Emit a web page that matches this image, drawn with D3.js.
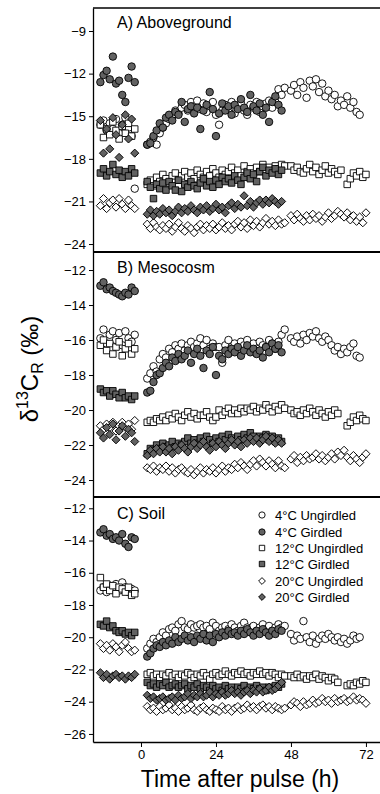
<!DOCTYPE html>
<html><head><meta charset="utf-8">
<script src="https://cdn.jsdelivr.net/npm/d3@7"></script>
<style>
html,body{margin:0;padding:0;background:#fff;}
svg{display:block;font-family:"Liberation Sans",Arial,Helvetica,sans-serif;}
</style></head>
<body><svg id="chart" width="380" height="794"></svg>
<script>
// ---- time points (h after pulse) ----
const tPre  = [-13,-12,-11,-10,-9,-8,-7,-6,-5,-4,-3,-2];
const tPost = [2,3,4,5,6,7,8,9,10,11,12,13,14,15,16,17,18,19,20,21,22,23,24,25,26,27,28,29,30,31,32,33,34,35,36,37,38,39,40,41,42,43,44,45,46];
const tLate = [48,49,50,51,52,53,54,55,56,57,58,59,60,61,62,63,64,65,66,67,68,69,70,71,72];

const seriesNames = ["4°C Ungirdled","4°C Girdled","12°C Ungirdled","12°C Girdled","20°C Ungirdled","20°C Girdled"];
const panelLabels = ["A) Aboveground","B) Mesocosm","C) Soil"];
const ticksA = [-9,-12,-15,-18,-21,-24];
const ticksB = [-12,-14,-16,-18,-20,-22,-24];
const ticksC = [-12,-14,-16,-18,-20,-22,-24,-26];
const xTicks = [0,24,48,72];

// ---- Panel A: Aboveground (ungirdled: pre+post+late, girdled: pre+post) ----
const A_4U = [-15.6,-15.3,-16.0,-15.5,-15.9,-15.2,-16.2,-15.6,-15.1,-15.8,-16.4,-20.1,
 -17.0,-16.8,-16.5,-17.0,-16.2,-15.8,-15.5,-15.2,-15.0,-14.6,-14.8,-14.4,-14.2,-14.6,-14.0,-14.3,-13.9,-14.5,-14.1,-14.7,
 -14.3,-14.0,-14.9,-15.6,-14.6,-14.2,-14.5,-14.0,-14.8,-14.3,-14.1,-14.6,-14.9,-14.2,-14.4,-14.0,-14.7,-14.3,-14.1,-13.9,
 -14.4,-14.0,-13.1,-13.5,-13.0,
 -13.2,-12.8,-13.5,-12.6,-13.0,-13.7,-12.5,-12.9,-12.4,-13.3,-12.7,-13.6,-13.2,-13.8,-13.5,-14.3,-13.9,-14.2,-13.6,-14.4,
 -14.0,-14.7,-14.9,null,null];
const A_4G = [-12.6,-12.1,-11.8,-12.4,-10.8,-12.7,-12.5,-13.5,-14.0,-12.3,-11.5,-12.6,
 -17.0,-16.9,-16.4,-16.0,-15.5,-15.8,-15.1,-14.9,-15.3,-14.7,-14.9,-14.0,-15.4,-14.5,-14.3,-14.8,-14.4,-15.9,-14.6,-14.2,
 -13.3,-14.5,-16.4,-14.8,-14.1,-14.6,-14.3,-14.9,-14.2,-14.5,-13.8,-14.4,-14.7,-13.5,-14.3,-14.6,-14.1,-14.9,-14.4,-15.4,
 -14.0,-13.6,-14.2,-14.6,null];
const A_12U = [-15.6,-16.5,-15.9,-16.3,-15.4,-16.0,-16.6,-15.7,-16.2,-15.5,-16.4,-15.9,
 -19.8,-19.5,-19.9,-19.3,-19.6,-19.1,-19.4,-19.7,-19.2,-19.0,-19.5,-19.2,-18.9,-19.3,-19.0,-19.4,-18.8,-19.1,-19.3,-18.9,
 -19.2,-18.7,-19.0,-19.3,-18.8,-19.1,-18.9,-18.6,-19.0,-18.8,-19.2,-18.5,-18.9,-18.7,-19.0,-18.6,-18.9,-18.4,-18.8,-18.6,
 -18.9,-18.5,-18.7,-18.4,-18.5,
 -18.5,-18.8,-18.6,-18.9,-19.0,-18.7,-18.4,-18.9,-18.6,-19.1,-18.8,-18.5,-19.0,-18.7,-18.9,-19.1,-18.8,null,-19.8,-19.4,
 -19.0,-19.2,-18.9,-19.3,-19.1];
const A_12G = [-19.0,-18.7,-19.2,-18.9,-18.4,-19.1,-18.8,-19.3,-18.9,-19.2,-18.7,-19.0,
 -19.6,-20.0,-20.8,-19.8,-20.1,-19.7,-20.2,-19.6,-19.9,-20.2,-19.5,-20.3,-19.8,-20.0,-19.6,-19.9,-20.1,-19.7,-19.4,-19.9,
 -19.6,-20.0,-19.5,-19.8,-19.3,-19.6,-19.4,-19.7,-19.2,-19.5,-19.8,-19.3,-19.0,-19.4,-19.1,-19.6,-18.9,-18.6,-19.2,-18.8,
 -19.0,-18.7,-19.1,-18.8,null];
const A_20U = [-21.3,-20.8,-21.5,-21.1,-20.9,-21.4,-20.8,-21.2,-21.5,-20.9,-21.3,-21.5,
 -22.6,-22.9,-22.5,-22.8,-23.0,-22.7,-22.9,-22.6,-23.1,-22.8,-22.5,-22.9,-23.1,-22.7,-22.9,-23.2,-22.8,-22.6,-23.0,-22.7,
 -22.9,-22.6,-23.0,-22.8,-22.5,-22.9,-22.7,-23.0,-22.6,-22.4,-22.8,-22.5,-22.9,-22.3,-22.7,-22.4,-22.8,-22.5,-22.2,-22.6,
 -22.4,-22.7,-22.3,-22.6,-22.5,
 -22.0,-22.3,-21.9,-22.2,-22.4,-22.0,-22.3,-21.9,-22.2,-22.0,-22.4,-22.1,-21.8,-22.2,-22.0,-21.7,-21.9,-22.1,-21.8,-22.3,
 -22.0,-22.4,-22.1,-22.5,-21.8];
const A_20G = [-15.3,-17.6,-15.9,-17.3,-15.1,-16.3,-17.9,-15.6,-14.9,-16.6,-15.2,-17.6,
 -21.9,-21.6,-22.0,-21.7,-21.9,-21.5,-21.8,-21.6,-22.0,-21.7,-21.4,-21.8,-21.5,-21.7,-21.3,-21.6,-21.8,-21.4,-21.6,-21.3,
 -21.7,-21.5,-21.2,-21.6,-21.4,-21.8,-21.3,-21.1,-21.5,-21.2,-21.4,-20.6,-21.3,-21.0,-21.4,-21.1,-20.9,-21.2,-20.9,-21.1,
 -20.8,-21.0,-21.2,-21.0,null];

// ---- Panel B: Mesocosm ----
const B_4U = [-15.9,-15.4,-16.2,-15.7,-15.5,-16.0,-15.6,-16.3,-15.5,-15.9,-16.1,-15.7,
 -18.2,-17.9,-17.5,-17.8,-17.1,-16.8,-17.0,-16.5,-16.7,-16.3,-16.5,-16.2,-16.6,-16.3,-16.1,-16.4,-16.2,-15.9,-16.3,-16.0,
 -16.5,-16.2,-16.4,-16.4,-17.3,-16.3,-16.0,-16.4,-16.2,-16.5,-16.1,-16.3,-16.0,-16.4,-16.2,-16.5,-16.1,-16.3,-16.4,-16.0,
 -16.2,-16.5,-16.1,-15.7,-15.4,
 -15.9,-16.1,-15.8,-16.2,-15.7,-16.0,-15.6,-15.8,-15.5,-15.9,-16.1,-15.8,-16.0,-16.3,-16.6,-16.4,-16.8,-16.5,-16.7,-16.4,
 -16.2,-16.9,-17.0,null,null];
const B_4G = [-12.9,-12.7,-13.1,-13.0,-13.2,-13.3,-13.4,-13.5,-13.3,-13.4,-13.0,-13.2,
 -19.0,-18.9,-18.4,-18.0,-17.9,-17.6,-17.3,-17.5,-17.0,-17.2,-16.8,-17.1,-16.9,-16.6,-17.3,-16.8,-16.5,-16.9,-17.6,-16.6,
 -16.8,-16.4,-18.0,-16.9,-17.1,-16.6,-16.8,-16.5,-16.7,-16.4,-16.9,-16.6,-16.3,-16.7,-16.5,-16.8,-16.6,-17.0,-16.4,-16.7,
 -16.2,-16.5,-16.3,-16.7,null];
const B_12U = [-16.3,-16.0,-16.6,-16.2,-16.8,-16.4,-16.1,-16.9,-16.5,-16.2,-16.8,-16.5,
 -20.7,-20.6,-20.7,-20.5,-20.6,-20.4,-20.6,-20.3,-20.5,-20.2,-20.4,-20.6,-20.3,-20.1,-20.4,-20.2,-20.5,-20.3,-20.3,-20.1,
 -20.4,-20.6,-20.4,-20.0,-20.3,-20.1,-19.9,-20.2,-20.0,-20.2,-19.9,-20.1,-19.9,-20.0,-19.8,-20.1,-19.9,-20.0,-19.7,-19.9,
 -20.1,-19.8,-20.0,-19.7,-19.9,
 -20.0,-20.2,-20.1,-20.3,-20.0,-20.2,-19.9,-20.1,-20.3,-20.0,-20.2,-20.4,-20.1,-20.3,-20.0,-20.2,null,null,-20.9,-20.7,
 -20.4,-20.6,-20.3,-20.5,-20.6];
const B_12G = [-18.8,-19.0,-18.9,-19.2,-18.9,-19.1,-19.3,-19.0,-19.3,-19.2,-19.4,-19.2,
 -22.5,-22.2,-22.3,-22.0,-22.2,-21.9,-22.1,-22.0,-21.8,-22.1,-21.9,-22.0,-21.8,-21.6,-21.9,-21.7,-21.9,-21.6,-21.8,-21.5,
 -21.7,-21.9,-21.6,-21.8,-21.5,-21.7,-21.4,-21.6,-21.8,-21.5,-21.7,-21.4,-21.6,-21.3,-21.5,-21.7,-21.5,-21.6,-21.4,-21.7,
 -21.5,-21.8,-21.6,-21.8,null];
const B_20U = [-20.9,-21.1,-20.8,-21.0,-20.7,-21.2,-20.9,-20.7,-21.0,-20.8,-21.1,-20.6,
 -23.3,-23.4,-23.2,-23.5,-23.3,-23.4,-23.2,-23.5,-23.3,-23.6,-23.4,-23.3,-23.5,-23.6,-23.4,-23.7,-23.5,-23.3,-23.6,-23.4,
 -23.5,-23.3,-23.6,-23.4,-23.2,-23.5,-23.3,-23.4,-23.1,-23.3,-23.0,-23.2,-23.4,-23.1,-22.9,-23.2,-22.8,-23.0,-23.2,-22.9,
 -23.1,-23.3,-22.9,-23.2,-23.3,
 -22.8,-22.6,-23.0,-22.7,-22.9,-22.6,-22.8,-22.7,-22.5,-22.8,-22.6,-22.9,-22.7,-22.5,-22.8,-22.4,-22.6,-22.3,-22.7,-22.9,
 -22.6,-22.8,-23.0,-22.7,-22.5];
const B_20G = [-21.3,-21.6,-21.0,-21.4,-20.8,-21.7,-21.2,-20.9,-21.5,-21.1,-21.3,-21.8,
 -22.6,-22.3,-22.5,-22.2,-22.4,-22.1,-22.4,-22.2,-22.5,-22.1,-22.3,-22.0,-22.2,-22.4,-22.1,-21.9,-22.2,-22.0,-21.8,-22.1,
 -22.3,-21.9,-22.1,-21.8,-22.0,-22.2,-21.9,-21.7,-22.0,-21.8,-22.1,-21.7,-21.9,-21.6,-21.8,-21.6,-21.9,-21.7,-21.5,-21.8,
 -21.6,-21.9,-21.7,-21.9,null];

// ---- Panel C: Soil ----
const C_4U = [-17.1,-16.9,-17.2,-16.8,-17.0,-16.7,-17.1,-16.6,-16.9,-17.2,-17.0,-17.1,
 -20.7,-20.4,-20.1,-20.3,-20.0,-19.7,-19.9,-19.5,-19.4,-19.6,-19.2,-19.0,-19.4,-19.5,-19.2,-19.4,-19.3,-19.2,-19.4,-19.3,
 -19.5,-19.1,-19.3,-19.6,-19.4,-19.3,-19.5,-19.2,-19.4,-19.6,-19.3,-19.1,-19.4,-19.5,-19.3,-19.6,-19.4,-19.2,-19.5,-19.3,
 -19.6,-19.4,-19.2,-19.4,-19.3,
 -19.8,-20.2,-19.9,-20.1,-19.0,-20.0,-20.3,-19.9,-20.4,-20.1,-19.9,-20.1,-19.8,-20.0,-20.2,-20.0,-20.3,-20.1,-20.4,-20.2,
 -19.9,-20.1,-20.0,null,null];
const C_4G = [-13.5,-13.3,-13.7,-13.6,-13.9,-13.8,-14.0,-13.6,-14.2,-14.4,-13.8,-13.9,
 -21.2,-21.0,-20.7,-20.5,-20.6,-20.3,-20.5,-20.2,-20.4,-20.0,-20.3,-20.1,-19.9,-20.2,-20.0,-20.3,-19.9,-20.1,-19.8,-20.2,
 -19.9,-20.3,-19.8,-20.0,-19.7,-19.9,-19.6,-19.8,-19.7,-19.9,-19.6,-19.8,-19.5,-19.7,-19.9,-19.6,-19.8,-19.5,-19.7,-19.9,
 -19.6,-19.8,-19.5,-19.6,null];
const C_12U = [-16.3,-16.9,-16.7,-17.1,-16.8,-17.3,-16.9,-17.0,-17.2,-16.9,-17.4,-17.3,
 -22.3,-22.2,-22.4,-22.3,-22.5,-22.3,-22.4,-22.2,-22.4,-22.3,-22.5,-22.3,-22.4,-22.2,-22.3,-22.5,-22.3,-22.4,-22.2,-22.4,
 -22.6,-22.3,-22.2,-22.4,-22.3,-22.1,-22.3,-22.4,-22.2,-22.3,-22.1,-22.3,-22.2,-22.4,-22.2,-22.3,-22.1,-22.3,-22.2,-22.4,
 -22.2,-22.3,-22.5,-22.3,-22.4,
 -22.4,-22.5,-22.3,-22.5,-22.4,-22.6,-22.4,-22.5,-22.3,-22.6,-22.4,-22.5,-22.7,-22.5,-22.6,-22.8,null,null,-23.0,-22.9,
 -23.0,-22.8,-22.9,-22.7,-22.8];
const C_12G = [-19.2,-19.3,-19.0,-19.4,-19.3,-19.6,-19.7,-19.6,-19.8,-19.7,-19.9,-19.7,
 -22.8,-23.0,-22.9,-23.1,-22.9,-23.0,-22.8,-23.1,-23.0,-22.9,-23.1,-23.0,-22.9,-23.2,-23.0,-23.1,-22.9,-23.2,-23.0,-23.1,
 -23.3,-23.0,-23.2,-23.1,-23.3,-23.0,-23.2,-23.1,-23.3,-23.1,-23.2,-23.0,-23.3,-23.1,-23.2,-23.0,-23.2,-23.1,-23.3,-23.1,
 -23.2,-23.0,-23.1,-22.9,null];
const C_20U = [-20.4,-20.7,-20.5,-20.8,-20.4,-20.6,-20.9,-20.5,-20.3,-20.7,-20.9,-20.8,
 -24.3,-24.5,-24.4,-24.6,-24.3,-24.5,-24.4,-24.2,-24.5,-24.4,-24.6,-24.3,-24.5,-24.4,-24.2,-24.5,-24.6,-24.4,-24.3,-24.5,
 -24.6,-24.4,-24.5,-24.6,-24.3,-24.5,-24.4,-24.6,-24.4,-24.3,-24.5,-24.4,-24.2,-24.4,-24.3,-24.5,-24.3,-24.2,-24.4,-24.3,
 -24.5,-24.3,-24.4,-24.5,-24.4,
 -24.2,-24.0,-24.1,-24.3,-24.0,-24.2,-24.1,-23.9,-24.1,-24.0,-23.8,-24.0,-23.9,-24.1,-23.8,-24.0,-23.9,-23.8,-24.0,-23.9,
 -23.7,-23.9,-23.8,-23.9,-24.1];
const C_20G = [-22.2,-22.5,-22.3,-22.6,-22.4,-22.3,-22.5,-22.4,-22.6,-22.4,-22.5,-22.3,
 -23.6,-23.8,-23.7,-23.9,-23.8,-23.7,-23.9,-23.8,-23.7,-23.9,-23.6,-23.8,-23.7,-23.5,-23.8,-23.6,-23.7,-23.5,-23.7,-23.6,
 -23.4,-23.7,-23.5,-23.6,-23.4,-23.6,-23.5,-23.3,-23.5,-23.4,-23.6,-23.4,-23.3,-23.5,-23.3,-23.4,-23.2,-23.4,-23.3,-23.1,
 -23.3,-23.2,-23.0,-22.8,null];

// ---- layout / style ----
const left = 93, right = 380;
const fontFam = '"Liberation Sans",Arial,Helvetica,sans-serif';
const gray = "#626262";
// diamonds = squares turned 45°
const styles = [
  {type: d3.symbolCircle, size: 44, fill: "#fff", rot: 0},
  {type: d3.symbolCircle, size: 44, fill: gray,   rot: 0},
  {type: d3.symbolSquare, size: 42, fill: "#fff", rot: 0},
  {type: d3.symbolSquare, size: 42, fill: gray,   rot: 0},
  {type: d3.symbolSquare, size: 33, fill: "#fff", rot: 45},
  {type: d3.symbolSquare, size: 33, fill: gray,   rot: 45}
];

const tU = tPre.concat(tPost, tLate);
const tG = tPre.concat(tPost);

const panels = [
  {label: panelLabels[0], top: 8,   bottom: 252, domain: [-24.56, -7.38], ticks: ticksA, labelY: 28,
   series: [A_4U, A_4G, A_12U, A_12G, A_20U, A_20G]},
  {label: panelLabels[1], top: 252, bottom: 497, domain: [-24.97, -10.97], ticks: ticksB, labelY: 273,
   series: [B_4U, B_4G, B_12U, B_12G, B_20U, B_20G]},
  {label: panelLabels[2], top: 497, bottom: 742, domain: [-26.5, -11.3], ticks: ticksC, labelY: 519,
   series: [C_4U, C_4G, C_12U, C_12G, C_20U, C_20G]}
];

const svg = d3.select("#chart");
const x = d3.scaleLinear().domain([-15.36, 76.5]).range([left, right]);

panels.forEach((p, pi) => {
  const y = d3.scaleLinear().domain(p.domain).range([p.bottom, p.top]);
  const g = svg.append("g");

  p.series.forEach((vals, si) => {
    const times = (si % 2 === 0) ? tU : tG;
    const pts = vals.map((v, i) => ({t: times[i], v: v})).filter(d => d.v !== null && d.t !== undefined);
    const st = styles[si];
    g.append("g").selectAll("path").data(pts).enter().append("path")
      .attr("d", d3.symbol().type(st.type).size(st.size))
      .attr("transform", d => `translate(${x(d.t)},${y(d.v)}) rotate(${st.rot})`)
      .attr("fill", st.fill).attr("stroke", "#000").attr("stroke-width", 0.9);
  });

  const ax = g.append("g").attr("transform", `translate(${left},0)`)
    .call(d3.axisLeft(y).tickValues(p.ticks).tickSize(4).tickPadding(3).tickSizeOuter(0));
  ax.select(".domain").attr("stroke-width", 1.3);
  ax.selectAll(".tick line").attr("stroke-width", 1);
  ax.selectAll("text").attr("font-size", 13).attr("font-family", fontFam).attr("fill", "#000");

  g.append("line").attr("x1", left).attr("x2", right)
    .attr("y1", p.top).attr("y2", p.top)
    .attr("stroke", "#000").attr("stroke-width", pi === 0 ? 1.4 : 2);

  g.append("text").attr("x", 117).attr("y", p.labelY)
    .attr("font-size", 16).attr("font-family", fontFam).text(p.label);
});

const xa = svg.append("g").attr("transform", `translate(0,742)`)
  .call(d3.axisBottom(x).tickValues(xTicks).tickSize(5).tickPadding(3).tickSizeOuter(0));
xa.select(".domain").attr("stroke-width", 1.4);
xa.selectAll("text").attr("font-size", 13).attr("font-family", fontFam).attr("fill", "#000");

svg.append("text").attr("x", 240).attr("y", 787).attr("text-anchor", "middle")
  .attr("font-size", 23).attr("font-family", fontFam).text("Time after pulse (h)");

const yt = svg.append("text").attr("transform", "translate(38,369) rotate(-90)")
  .attr("text-anchor", "middle").attr("font-size", 24).attr("font-family", fontFam);
yt.append("tspan").text("δ");
yt.append("tspan").attr("font-size", 16).attr("dy", -10).text("13");
yt.append("tspan").attr("dy", 10).text("C");
yt.append("tspan").attr("font-size", 16).attr("dy", 5).text("R");
yt.append("tspan").attr("dy", -5).text(" (‰)");

const legY = [515, 532, 548, 564, 581, 597];
const leg = svg.append("g");
seriesNames.forEach((name, i) => {
  const st = styles[i];
  leg.append("path").attr("d", d3.symbol().type(st.type).size(st.size * 0.7))
    .attr("transform", `translate(262,${legY[i]}) rotate(${st.rot})`)
    .attr("fill", st.fill).attr("stroke", "#000").attr("stroke-width", 0.9);
  leg.append("text").attr("x", 275).attr("y", legY[i] + 4.5)
    .attr("font-size", 13).attr("font-family", fontFam).text(name);
});
</script>
</body></html>
